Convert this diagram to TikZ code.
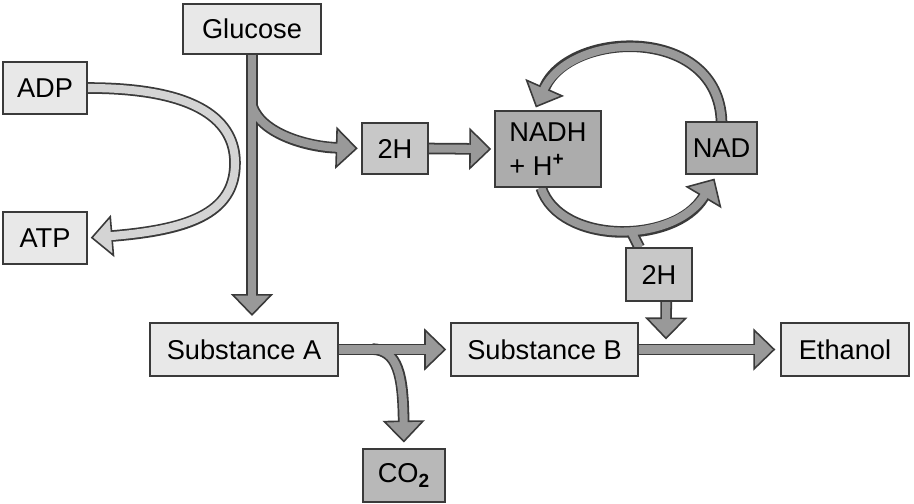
\documentclass[tikz,border=0pt]{standalone}
\usepackage{fontspec}
\setsansfont{Liberation Sans}
\usetikzlibrary{arrows.meta}
\definecolor{cLine}{HTML}{3A3A3A}
\definecolor{cBox}{HTML}{E8E8E8}
\definecolor{cH}{HTML}{C8C8C8}
\definecolor{cNad}{HTML}{ACACAC}
\definecolor{cCo}{HTML}{B8B8B8}
\definecolor{cArr}{HTML}{999999}
\definecolor{cArrL}{HTML}{D4D4D4}
\pgfdeclarelayer{outerl}
\pgfdeclarelayer{innerl}
\pgfsetlayers{outerl,innerl,main}
% fat arrow: #1 fill, #2 gap in pt, #3 path
\newcommand\fatarrow[3][cArr]{%
  \begin{pgfonlayer}{outerl}\draw[fatout,tipped=#1,shorten >=#2pt] #3;\end{pgfonlayer}
  \begin{pgfonlayer}{innerl}\draw[fatin,draw=#1,shorten >=#2pt+10.5pt] #3;\end{pgfonlayer}}
\newcommand\fatline[1]{%
  \begin{pgfonlayer}{outerl}\draw[fatout] #1;\end{pgfonlayer}
  \begin{pgfonlayer}{innerl}\draw[fatin] #1;\end{pgfonlayer}}

\begin{document}
\begin{tikzpicture}[x=0.02cm,y=-0.02cm,
  box/.style={draw=cLine,line width=0.9pt,fill=cBox,inner sep=0pt,
    font=\sffamily\fontsize{15.5}{19}\selectfont,minimum height=1.05cm},
  fatout/.style={draw=cLine,line width=6.6pt},
  fatin/.style={draw=cArr,line width=4.6pt},
  tipped/.style={-{Triangle[length=12.5pt,width=24pt,line width=0.9pt,color=cLine,fill=#1]}}]
  \useasboundingbox (0,0) rectangle (914,504);

  \node[box,minimum width=2.76cm,minimum height=1cm] (glu) at (252,29) {Glucose};
  \node[box,minimum width=1.68cm] (adp) at (45,88) {ADP};
  \node[box,minimum width=1.68cm] (atp) at (45,238) {ATP};
  \node[box,fill=cH,minimum width=1.32cm,minimum height=1.02cm] (h1) at (395,148.5) {2H};
  \node[box,fill=cNad,minimum width=2.12cm,minimum height=1.52cm,align=left] (nadh) at (548,149)
    {NADH\\+ H\textsuperscript{\textbf{+}}};
  \node[box,fill=cNad,minimum width=1.42cm,minimum height=1.04cm] (nad) at (721.5,148) {NAD};
  \node[box,fill=cH,minimum width=1.32cm] (h2) at (659,274.5) {2H};
  \node[box,minimum width=3.76cm] (subA) at (244,349.5) {Substance A};
  \node[box,minimum width=3.74cm] (subB) at (544.5,349.5) {Substance B};
  \node[box,minimum width=2.56cm] (eth) at (845,349.5) {Ethanol};
  \node[box,fill=cCo,minimum width=1.64cm] (co2) at (404,475.5) {CO\textsubscript{\textbf{2}}};

  \coordinate (gb) at (252,106);
  \coordinate (ga) at (252,323);
  \coordinate (ab) at (372,349);
  \coordinate (nb) at (630,229);
  \coordinate (hj) at (666,343);

  % glucose column
  \fatarrow{4}{(glu.south) -- (ga)}
  \fatarrow{2}{(gb) .. controls (262,135) and (310,147) .. (h1.west)}
  \fatarrow{1.7}{(h1.east) -- (nadh.west)}
  \fatarrow[cArrL]{1.7}{(adp.east) .. controls (200,88) and (235,122) .. (235,163)
    .. controls (235,215) and (185,230) .. (atp.east)}
  % NAD cycle
  \fatarrow{1.7}{(nad.north) .. controls (718,25) and (570,30) .. (nadh.109)}
  \fatarrow{2.5}{(nadh.-100) .. controls (560,245) and (675,245) .. (nad.-100)}
  \fatline{(nb) -- (h2.126)}
  \fatarrow{2}{(h2.-75) -- (hj)}
  % bottom row
  \fatarrow{2.3}{(subA.east) -- (subB.west)}
  \fatarrow{2.8}{(subB.east) -- (eth.west)}
  \fatarrow{3.4}{(ab) .. controls (398,350) and (403,375) .. (co2.north)}
\end{tikzpicture}
\end{document}
